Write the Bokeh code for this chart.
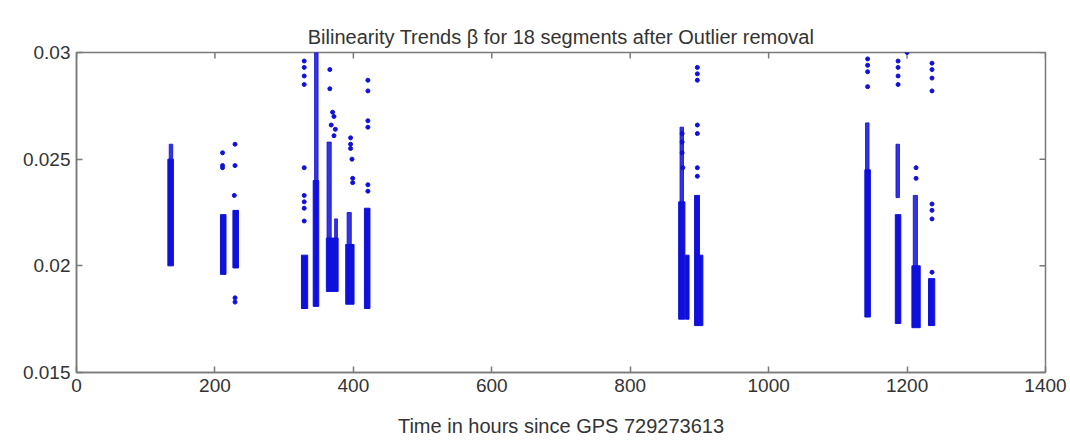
import math
from bokeh.plotting import figure
from bokeh.models import LinearAxis, FixedTicker, Range1d
from bokeh.embed import file_html
from bokeh.resources import INLINE

title_text = "Bilinearity Trends \u03b2 for 18 segments after Outlier removal"
x_label = "Time in hours since GPS 729273613"
x_ticks = [0, 200, 400, 600, 800, 1000, 1200, 1400]
y_ticks = [0.015, 0.02, 0.025, 0.03]
y_tick_labels = ["0.015", "0.02", "0.025", "0.03"]

# dense body of each segment (hours, beta)
core_t0 = [132, 208, 226, 325, 342, 361, 389, 416, 870, 880, 893, 899, 1139, 1183, 1207, 1231]
core_t1 = [140, 216, 234, 334, 350, 378, 401, 424, 879, 885, 900, 905, 1147, 1191, 1219, 1240]
core_lo = [0.0200, 0.0196, 0.0199, 0.0180, 0.0181, 0.0188, 0.0182, 0.0180, 0.0175, 0.0175, 0.0172, 0.0172, 0.0176, 0.0173, 0.0171, 0.0172]
core_hi = [0.0250, 0.0224, 0.0226, 0.0205, 0.0240, 0.0213, 0.0210, 0.0227, 0.0230, 0.0205, 0.0233, 0.0205, 0.0245, 0.0224, 0.0200, 0.0194]

# thinner upper columns of the segments
tail_t0 = [134, 344, 362, 373, 391, 872, 1140, 1184, 1209]
tail_t1 = [139, 349, 368, 377, 397, 877, 1145, 1189, 1215]
tail_lo = [0.0250, 0.0240, 0.0213, 0.0213, 0.0210, 0.0230, 0.0245, 0.0232, 0.0200]
tail_hi = [0.0257, 0.0300, 0.0258, 0.0222, 0.0225, 0.0265, 0.0267, 0.0257, 0.0233]

# isolated points
out_t = [211, 211, 211,
         229, 229, 228, 229, 229,
         329, 329, 329, 329, 329, 329, 329, 329, 329,
         366, 366, 370, 372, 368, 374, 372,
         396, 396, 396, 398, 399, 399,
         421, 421, 421, 421, 421, 421,
         875, 875, 875, 876,
         897, 897, 897, 897, 897, 897, 897,
         1143, 1143, 1143, 1143,
         1187, 1187, 1187, 1187, 1200,
         1213, 1213,
         1236, 1236, 1236, 1236, 1236, 1236, 1236, 1236]
out_b = [0.0253, 0.0247, 0.0246,
         0.0257, 0.0247, 0.0233, 0.0185, 0.0183,
         0.0296, 0.0293, 0.0289, 0.0285, 0.0246, 0.0233, 0.0230, 0.0227, 0.0221,
         0.0292, 0.0283, 0.0272, 0.0270, 0.0266, 0.0264, 0.0261,
         0.0260, 0.0257, 0.0255, 0.0250, 0.0241, 0.0239,
         0.0287, 0.0282, 0.0268, 0.0265, 0.0238, 0.0235,
         0.0262, 0.0258, 0.0253, 0.0246,
         0.0293, 0.0290, 0.0287, 0.0266, 0.0262, 0.0246, 0.0242,
         0.0297, 0.0294, 0.0291, 0.0284,
         0.0296, 0.0293, 0.0289, 0.0285, 0.0300,
         0.0246, 0.0241,
         0.0295, 0.0292, 0.0288, 0.0282, 0.0229, 0.0226, 0.0222, 0.0197]

BLUE = "#1010dc"
AXC = "#7a7a7a"
TXT = "#333333"
FONT = "Liberation Sans"

x0, x1 = x_ticks[0], x_ticks[-1]
y0, y1 = y_ticks[0], y_ticks[-1]

p = figure(width=1070, height=446, output_backend="svg", toolbar_location=None,
           x_range=Range1d(x0, x1), y_range=Range1d(y0, y1),
           min_border_left=76, min_border_right=25, min_border_top=52, min_border_bottom=74,
           x_axis_location=None, y_axis_location=None)
p.grid.visible = False
p.outline_line_color = AXC
p.outline_line_width = 1.5
p.background_fill_color = "white"
p.border_fill_color = "white"

p.title.text = title_text
p.title.align = "center"
p.title.text_font = FONT
p.title.text_font_size = "20px"
p.title.text_font_style = "normal"
p.title.text_color = TXT
p.title.standoff = 10

def make_axis(ticks, labels=None):
    ax = LinearAxis(ticker=FixedTicker(ticks=ticks))
    ax.axis_line_color = AXC
    ax.axis_line_width = 1.5
    ax.major_tick_line_color = AXC
    ax.major_tick_line_width = 1.5
    ax.major_tick_in = 6
    ax.major_tick_out = 0
    ax.minor_tick_line_color = None
    ax.major_label_text_font = FONT
    ax.major_label_text_color = TXT
    ax.major_label_text_font_size = "19px"
    if labels is not None:
        ax.major_label_overrides = {t: l for t, l in zip(ticks, labels)}
    return ax

bottom = make_axis(x_ticks)
bottom.axis_label = x_label
bottom.axis_label_text_font = FONT
bottom.axis_label_text_font_size = "20px"
bottom.axis_label_text_font_style = "normal"
bottom.axis_label_text_color = TXT
bottom.axis_label_standoff = 20
bottom.major_label_standoff = 6
p.add_layout(bottom, "below")

left = make_axis(y_ticks, y_tick_labels)
left.major_label_standoff = 6
p.add_layout(left, "left")

# inward ticks on the top and right edges of the box (clipped to the frame)
p.scatter(x=x_ticks, y=[y1] * len(x_ticks), marker="dash", size=12, angle=math.pi / 2,
          line_color=AXC, line_width=1.5)
p.scatter(x=[x1] * len(y_ticks), y=y_ticks, marker="dash", size=12,
          line_color=AXC, line_width=1.5)

p.quad(left=core_t0, right=core_t1, bottom=core_lo, top=core_hi,
       fill_color=BLUE, line_color=BLUE, line_width=1)
p.quad(left=tail_t0, right=tail_t1, bottom=tail_lo, top=tail_hi,
       fill_color=BLUE, line_color=BLUE, line_width=1, fill_alpha=0.85, line_alpha=0.85)
p.scatter(out_t, out_b, marker="circle", size=4, fill_color=BLUE, line_color=BLUE)

open("out.html", "w").write(file_html(p, INLINE))
